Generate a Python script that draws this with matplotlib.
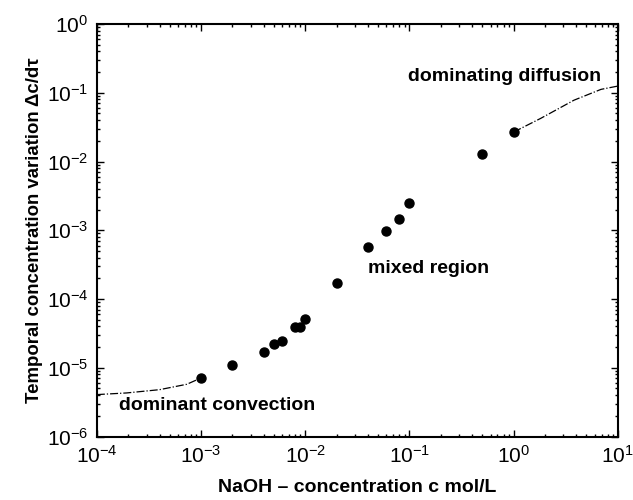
import numpy as np
import matplotlib
matplotlib.use('Agg')
import matplotlib.pyplot as plt

plt.rcParams['font.family'] = ['Liberation Sans', 'DejaVu Sans']
plt.rcParams['mathtext.fontset'] = 'custom'
plt.rcParams['mathtext.rm'] = 'Liberation Sans'
plt.rcParams['mathtext.it'] = 'Liberation Sans:italic'
plt.rcParams['mathtext.bf'] = 'Liberation Sans:bold'

# measured points
conc = [1e-3, 2e-3, 4e-3, 5e-3, 6e-3, 8e-3, 9e-3, 1e-2, 2e-2,
        4e-2, 6e-2, 8e-2, 1e-1, 5e-1, 1.0]
dcdt = [7.1e-6, 1.09e-5, 1.72e-5, 2.22e-5, 2.43e-5, 3.9e-5, 3.9e-5, 5.05e-5, 1.7e-4,
        5.8e-4, 9.8e-4, 1.47e-3, 2.46e-3, 1.3e-2, 2.68e-2]

# dash-dot extrapolations
low_x = [1e-4, 1.93e-4, 4.0e-4, 7.3e-4, 1e-3]
low_y = [4.07e-6, 4.3e-6, 4.8e-6, 5.75e-6, 7.1e-6]
high_x = [1.0, 1.82, 3.8, 6.9, 10.0]
high_y = [2.68e-2, 4.24e-2, 7.8e-2, 1.12e-1, 1.25e-1]

fig = plt.figure(figsize=(6.33, 5.0), dpi=100)
ax = fig.add_axes([0.153, 0.127, 0.823, 0.825])

ax.plot(low_x, low_y, 'k-.', lw=0.9)
ax.plot(high_x, high_y, 'k-.', lw=0.9)
ax.plot(conc, dcdt, 'ko', ms=6.5)

ax.set_xscale('log')
ax.set_yscale('log')
ax.set_xlim(1e-4, 10)
ax.set_ylim(1e-6, 1)

ax.tick_params(which='both', direction='in', top=True, right=True, labelsize=15, width=1)
ax.tick_params(which='major', length=5, pad=6)
ax.tick_params(which='minor', length=2.5)
for s in ax.spines.values():
    s.set_linewidth(1.5)

ax.text(1.64e-4, 2.78e-6, 'dominant convection', fontsize=14, fontweight='bold', va='center')
ax.text(3.97e-2, 2.78e-4, 'mixed region', fontsize=14, fontweight='bold', va='center')
ax.text(6.87, 0.175, 'dominating diffusion', fontsize=14, fontweight='bold', va='center', ha='right')

ax.set_xlabel('NaOH – concentration c mol/L', fontsize=14, fontweight='bold', labelpad=9)
ax.set_ylabel('Temporal concentration variation Δc/dτ', fontsize=13.4, fontweight='bold')
ax.yaxis.set_label_coords(-0.103, 0.5)

fig.savefig('out.png', dpi=100)
